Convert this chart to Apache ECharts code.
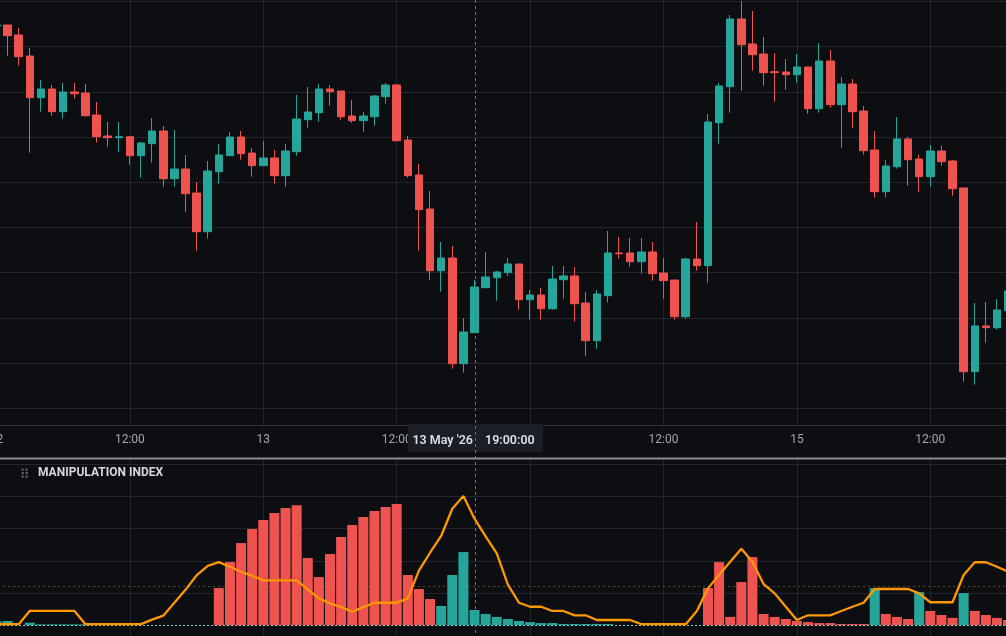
<!DOCTYPE html>
<html>
<head>
<meta charset="utf-8">
<title>Manipulation index</title>
<script src="https://cdn.jsdelivr.net/npm/echarts@6/dist/echarts.min.js"></script>
<style>
html, body { margin: 0; padding: 0; background: #0c0e12; }
#chart { width: 1006px; height: 636px; }
</style>
</head>
<body>
<div id="chart"></div>
<script>
// hours counted from 13 May '26 00:00, one candle per hour
const firstHour = -24

// [open, close, low, high]
const candles = [
  [184.58, 184.80, 184.58, 185.02], [184.80, 182.43, 178.01, 184.80], [182.59, 177.79, 175.79, 184.14],
  [177.94, 168.71, 156.55, 179.71], [168.71, 170.64, 165.62, 172.63], [170.64, 165.62, 164.73, 171.52],
  [165.62, 169.98, 164.07, 171.97], [169.98, 169.60, 168.49, 171.97], [169.75, 164.73, 164.51, 171.75],
  [164.89, 160.09, 158.76, 167.76], [160.24, 159.87, 157.87, 163.34], [159.87, 160.09, 156.77, 163.34],
  [160.09, 155.88, 153.89, 160.24], [155.88, 158.69, 151.02, 158.91], [158.54, 161.35, 154.33, 164.22],
  [161.35, 150.79, 149.02, 162.45], [150.79, 152.94, 149.02, 161.57], [152.94, 147.48, 143.49, 156.04],
  [147.63, 139.07, 134.86, 150.06], [139.07, 152.50, 137.52, 154.71], [152.34, 156.04, 149.69, 158.47],
  [155.88, 160.02, 155.88, 161.13], [160.02, 156.33, 155.00, 161.35], [156.48, 153.67, 151.24, 157.59],
  [153.67, 155.37, 153.67, 159.14], [155.37, 151.46, 149.69, 157.14], [151.46, 156.92, 149.02, 158.47],
  [156.77, 164.00, 155.88, 169.31], [163.85, 165.55, 162.08, 171.08], [165.40, 170.64, 163.41, 171.75],
  [170.64, 170.04, 166.94, 171.52], [170.20, 164.51, 163.85, 170.20], [164.67, 163.63, 163.18, 168.21],
  [163.63, 164.67, 161.19, 165.55], [164.51, 169.09, 162.52, 169.31], [168.94, 171.52, 167.39, 171.97],
  [171.52, 159.20, 158.98, 171.75], [159.36, 151.46, 151.02, 160.24], [151.61, 143.94, 134.86, 154.05],
  [144.09, 130.44, 128.38, 148.07], [130.44, 133.25, 125.79, 136.79], [133.25, 109.87, 108.76, 135.90],
  [109.87, 116.88, 107.87, 119.98], [116.72, 126.83, 116.72, 128.38], [126.68, 129.05, 126.68, 134.58],
  [128.89, 130.15, 123.80, 130.37], [130.00, 131.92, 129.27, 133.25], [131.92, 124.02, 121.81, 131.92],
  [124.02, 125.06, 119.60, 126.17], [125.06, 122.03, 119.60, 126.61], [122.03, 128.60, 121.81, 131.48],
  [128.45, 129.27, 124.25, 131.48], [129.27, 123.14, 119.16, 131.26], [123.29, 114.95, 111.63, 125.73],
  [114.95, 125.29, 113.18, 126.17], [124.91, 134.36, 123.36, 139.22], [134.36, 134.20, 133.09, 137.90],
  [134.36, 132.43, 131.32, 137.67], [132.43, 134.58, 129.78, 137.67], [134.58, 129.78, 128.23, 136.79],
  [129.93, 128.23, 124.25, 133.25], [128.38, 120.26, 119.60, 128.38], [120.26, 133.03, 119.82, 133.25],
  [133.03, 131.55, 130.44, 141.21], [131.55, 163.34, 127.78, 165.11], [163.18, 171.30, 158.54, 171.97],
  [171.15, 186.13, 165.40, 187.01], [186.13, 180.44, 170.26, 190.11], [180.60, 178.23, 174.69, 187.90],
  [178.38, 174.25, 171.37, 182.14], [174.47, 174.25, 167.83, 178.60], [174.40, 173.80, 170.48, 177.28],
  [173.80, 175.51, 172.03, 178.38], [175.51, 166.28, 165.18, 175.51], [166.28, 176.83, 165.40, 180.82],
  [176.83, 167.17, 166.50, 179.27], [167.17, 171.75, 157.65, 173.29], [171.75, 165.62, 162.08, 172.85],
  [165.77, 156.99, 156.10, 166.88], [157.14, 147.92, 146.59, 161.35], [147.92, 153.60, 146.59, 154.93],
  [153.45, 159.58, 153.01, 164.44], [159.58, 155.00, 149.25, 160.09], [155.15, 151.24, 147.92, 156.10],
  [151.24, 156.92, 149.02, 158.25], [156.92, 154.56, 153.67, 158.10], [154.71, 148.58, 147.03, 155.00],
  [148.74, 108.09, 105.88, 148.74], [108.09, 118.21, 105.22, 123.29], [118.21, 117.83, 114.51, 123.52],
  [117.83, 121.75, 117.39, 124.18], [121.59, 125.95, 121.59, 126.61]
]

// manipulation index histogram
const barValues = [
  2.5, 2.7, 0, 1.6, 0.6, 0.6, 0.6, 0.6, 0.6, 0, 0, 0, 0, 0, 0, 0, 0, 0, 0, 0,
  23.1, 39.2, 51.0, 59.7, 65.3, 69.6, 72.7, 74.5, 41.7, 29.9, 44.2, 54.7, 62.2, 67.1, 70.9, 73.3, 75.2, 31.2, 22.5, 16.3,
  12.0, 31.2, 45.4, 9.5, 7.0, 5.2, 3.9, 2.7, 2.0, 1.4, 1.4, 0.8, 0.8, 0.8, 0.8, 0.8, 0, 0, 0, 0, 0, 0, 0, 0,
  23.1, 39.2, 5.2, 26.8, 42.3, 7.0, 5.2, 3.9, 2.7, 2.0, 1.4, 1.4, 0.8, 0.8, 0.8,
  23.1, 7.0, 5.2, 3.9, 20.6, 8.9, 6.4, 4.6, 20.0, 8.9, 6.4, 4.6, 3.3
]
// t = teal, r = red
const barSides = [
  't','t','t','t','t','t','t','t','t','t','t','t','t','t','t','t','t','t','t','t',
  'r','r','r','r','r','r','r','r','r','r','r','r','r','r','r','r','r','r','r','r',
  't','t','t','t','t','t','t','t','t','t','t','t','t','t','t','t','t','t','t','t','t','t','t','t',
  'r','r','r','r','r','r','r','r','r','r','r','r','r','r','r',
  't','r','r','r','t','r','r','r','t','r','r','r','r'
]
// orange index line
const indexLine = [
  0.7, 0.7, 0.7, 9, 9, 9, 9, 9, 0.7, 0.7, 0.7, 0.7, 0.7, 0.7, 3.5, 6.0, 14.0, 22.0, 31.0, 36.9,
  39.2, 36.3, 33.2, 30.7, 27.9, 27.9, 27.9, 27.9, 22.3, 16.7, 13.6, 11.3, 8.4, 11.3, 14.0, 14.0, 14.0, 16.7, 33.9, 45.0,
  55.4, 72.3, 80.2, 66.1, 55.2, 44.6, 25.2, 14.0, 11.5, 11.5, 8.9, 8.9, 6.2, 6.2, 3.3, 3.3, 3.3, 3.3, 0.7, 0.7, 0.7, 0.7, 0.7, 8.9,
  22.9, 31.2, 39.4, 47.5, 39.4, 25.6, 19.8, 11.5, 3.3, 6.2, 6.2, 6.2, 8.9, 11.5, 14.0,
  22.5, 22.5, 22.5, 22.5, 19.8, 14.3, 14.3, 14.3, 31.2, 39.1, 39.1, 36.3, 33.2
]

const priceLevels = [100, 110, 120, 130, 140, 150, 160, 170, 180, 190]
const indexLevels = [20, 40, 60, 80, 100]
const threshold = 24.5
const crosshairHour = 19
const crosshairText = ["13 May '26", '19:00:00']

const UP = '#26a69a'
const DOWN = '#ef5350'
const GRID = '#22252b'
const BG = '#0c0e12'
const FONT = 'Roboto, "Noto Sans", sans-serif'

const hourOf = i => firstHour + i

const chart = echarts.init(document.getElementById('chart'))

const baseX = {
  type: 'value',
  min: -36,
  max: 72,
  interval: 12,
  axisTick: { show: false },
  splitLine: { show: true, lineStyle: { color: GRID, width: 1 } }
}
const paneGrid = { left: -136.9, right: -57.7, outerBoundsMode: 'none', containLabel: false }

chart.setOption({
  backgroundColor: BG,
  animation: false,
  title: {
    text: 'MANIPULATION INDEX',
    left: 38,
    top: 466,
    padding: 0,
    textStyle: { color: '#d6d9e0', fontSize: 12, fontWeight: 'bold', fontFamily: FONT, lineHeight: 14 }
  },
  grid: [
    { ...paneGrid, top: 0, height: 425 },
    { ...paneGrid, top: 460, height: 176 }
  ],
  xAxis: [
    {
      ...baseX,
      gridIndex: 0,
      axisLine: { show: true, onZero: false, lineStyle: { color: '#2e3138' } },
      axisLabel: {
        color: '#a3a6ae',
        fontSize: 12,
        fontFamily: FONT,
        margin: 9,
        showMinLabel: true,
        showMaxLabel: true,
        formatter: v => (v % 24 === 0 ? String(13 + v / 24) : '12:00')
      }
    },
    {
      ...baseX,
      gridIndex: 1,
      axisLine: { show: false, onZero: false },
      axisLabel: { show: false }
    }
  ],
  yAxis: [
    { gridIndex: 0, type: 'value', min: 96.3, max: 190.33, show: false },
    { gridIndex: 1, type: 'value', min: -6.63, max: 102.5, show: false }
  ],
  series: [
    {
      type: 'candlestick',
      xAxisIndex: 0,
      yAxisIndex: 0,
      barWidth: 8,
      clip: false,
      data: candles.map((c, i) => [hourOf(i), c[0], c[1], c[2], c[3]]),
      itemStyle: { color: UP, color0: DOWN, borderColor: UP, borderColor0: DOWN, borderWidth: 1 },
      markLine: {
        silent: true,
        symbol: 'none',
        z: 1,
        label: { show: false },
        lineStyle: { color: GRID, width: 1, type: 'solid' },
        data: priceLevels.map(v => ({ yAxis: v }))
      }
    },
    {
      type: 'bar',
      xAxisIndex: 1,
      yAxisIndex: 1,
      barWidth: 10,
      data: barValues.map((v, i) => ({
        value: [hourOf(i), v],
        itemStyle: { color: barSides[i] === 't' ? UP : DOWN }
      })),
      markLine: {
        silent: true,
        symbol: 'none',
        z: 1,
        label: { show: false },
        data: indexLevels.map(v => ({ yAxis: v, lineStyle: { color: GRID, width: 1, type: 'solid' } }))
          .concat([{ yAxis: threshold, lineStyle: { color: '#5a4820', width: 1, type: [2, 3] } }])
      }
    },
    {
      type: 'line',
      xAxisIndex: 1,
      yAxisIndex: 1,
      z: 4,
      symbol: 'none',
      showSymbol: false,
      data: indexLine.map((v, i) => [hourOf(i), v]),
      lineStyle: { color: '#ff9800', width: 2.3 },
      markLine: {
        silent: true,
        symbol: 'none',
        z: 3,
        label: { show: false },
        data: [{ yAxis: 0, lineStyle: { color: '#8fcfc7', width: 1, type: [2, 2] } }]
      }
    }
  ]
})

// pane separator, header grip and crosshair
const cx = Math.round(chart.convertToPixel({ xAxisIndex: 0 }, crosshairHour)) + 0.5
const grip = []
;[0, 1].forEach(col => {
  ;[0, 1, 2].forEach(row => {
    grip.push({
      type: 'rect',
      shape: { x: 21.5 + col * 4, y: 468.5 + row * 3.5, width: 2.2, height: 2.2 },
      style: { fill: '#5d6068' },
      z: 50
    })
  })
})

chart.setOption({
  graphic: grip.concat([
    { type: 'rect', shape: { x: 0, y: 457.5, width: 1006, height: 2 }, style: { fill: '#8a8d94' }, z: 50 },
    { type: 'rect', shape: { x: cx - 67.5, y: 424, width: 135, height: 28, r: 2 }, style: { fill: '#1b1e26' }, z: 100 },
    {
      type: 'text', x: cx - 2.5, y: 441, z: 101,
      style: { text: crosshairText[0], align: 'right', verticalAlign: 'middle', fill: '#dcdfe6', font: '600 12.5px Roboto' }
    },
    {
      type: 'text', x: cx + 9.5, y: 441, z: 101,
      style: { text: crosshairText[1], align: 'left', verticalAlign: 'middle', fill: '#dcdfe6', font: '600 12.5px Roboto' }
    },
    {
      type: 'line', z: 102,
      shape: { x1: cx, y1: 0, x2: cx, y2: 636 },
      style: { stroke: '#6e717a', lineWidth: 1, lineDash: [3, 3] }
    }
  ])
})
</script>
</body>
</html>
